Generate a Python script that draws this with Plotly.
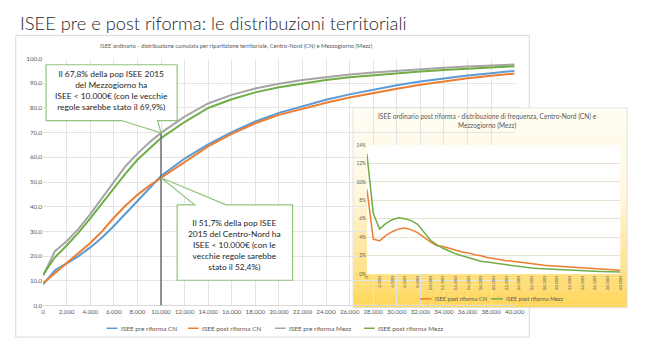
import plotly.graph_objects as go

W, H = 645, 344

# ---- cumulative distribution (%), ISEE thresholds in euro ----
isee = [0, 1000, 2000, 3000, 4000, 5000, 6000, 7000, 8000, 9000, 10000,
        12000, 14000, 16000, 18000, 20000, 22000, 24000, 26000, 28000,
        30000, 32000, 34000, 36000, 38000, 40000]
pre_cn = [8.5, 14.2, 17.0, 20.0, 23.5, 27.5, 32.2, 37.2, 42.3, 47.2, 52.4,
          59.5, 65.2, 70.2, 74.5, 78.0, 80.7, 83.3, 85.5, 87.5,
          89.2, 90.7, 92.0, 93.1, 94.1, 95.0]
post_cn = [9.0, 13.0, 17.0, 21.0, 25.3, 30.0, 35.5, 40.5, 44.8, 48.5, 51.7,
           58.3, 64.4, 69.5, 73.8, 77.2, 79.8, 82.1, 84.2, 86.1,
           87.8, 89.4, 90.8, 92.0, 93.0, 93.9]
pre_mezz = [12.0, 22.0, 26.0, 31.0, 37.0, 43.5, 50.0, 56.5, 61.5, 66.0, 69.9,
            76.5, 81.8, 85.3, 87.9, 89.8, 91.3, 92.5, 93.5, 94.4,
            95.1, 95.8, 96.3, 96.8, 97.2, 97.6]
post_mezz = [12.5, 19.5, 24.3, 29.5, 35.3, 41.5, 47.5, 53.5, 59.0, 63.5, 67.8,
             74.3, 80.0, 83.5, 86.3, 88.4, 90.0, 91.3, 92.4, 93.3,
             94.1, 94.8, 95.4, 95.9, 96.4, 96.9]
cum_names = ["ISEE pre riforma CN", "ISEE post riforma CN",
             "ISEE pre riforma Mezz", "ISEE post riforma Mezz"]

# ---- frequency distribution after the reform (share of population) ----
freq_bins = list(range(0, 40001, 1000))
freq_cn = [0.092, 0.038, 0.036, 0.042, 0.046, 0.049, 0.050, 0.048, 0.045, 0.040,
           0.035, 0.031, 0.030, 0.028, 0.026, 0.024, 0.023, 0.021, 0.020, 0.018,
           0.017, 0.0155, 0.0145, 0.014, 0.013, 0.012, 0.011, 0.010, 0.0095,
           0.009, 0.0085, 0.008, 0.0075, 0.007, 0.0065, 0.006, 0.0055, 0.005,
           0.0048, 0.0045, 0.0043]
freq_mezz = [0.130, 0.066, 0.049, 0.055, 0.059, 0.061, 0.060, 0.058, 0.054, 0.046,
             0.037, 0.032, 0.028, 0.025, 0.022, 0.020, 0.018, 0.016, 0.014, 0.013,
             0.012, 0.011, 0.010, 0.009, 0.008, 0.0072, 0.0065, 0.006, 0.0056,
             0.005, 0.0046, 0.0042, 0.0038, 0.0036, 0.0034, 0.0032, 0.003,
             0.0028, 0.0026, 0.0024, 0.0022]
freq_names = ["ISEE post riforma CN", "ISEE post riforma Mezz"]

THRESHOLD = 10000
TICK_STEP = 2000

BLUE, ORANGE, GRAY, GREEN = "#5B9BD5", "#ED7D31", "#A5A5A5", "#70AD47"
CALLOUT = "#93C47D"
TXT = "#595959"
FONT = "Lato"


def px(x):
    return x / W


def py(y):
    return 1 - y / H


def pct(v):
    return f"{v:.1f}".replace(".", ",")


fig = go.Figure()

# main chart: cumulative curves
for ys, name, col in zip([pre_cn, post_cn, pre_mezz, post_mezz], cum_names,
                         [BLUE, ORANGE, GRAY, GREEN]):
    fig.add_trace(go.Scatter(x=isee, y=ys, name=name, mode="lines",
                             line=dict(color=col, width=2),
                             xaxis="x", yaxis="y", showlegend=False))

# inset: frequency curves
for ys, name, col in zip([freq_cn, freq_mezz], freq_names, [ORANGE, GREEN]):
    fig.add_trace(go.Scatter(x=freq_bins, y=ys, name=name, mode="lines",
                             line=dict(color=col, width=1.5),
                             xaxis="x2", yaxis="y2", showlegend=False))

ticks = list(range(0, isee[-1] + 1, TICK_STEP))
shapes = []
annotations = []

# outer frame of the main chart
shapes.append(dict(type="rect", xref="paper", yref="paper",
                   x0=px(12), x1=px(537), y0=py(340), y1=py(32),
                   line=dict(color="#D9D9D9", width=1), layer="below"))

# inset panel: vertical cream-to-gold gradient drawn in the inset subplot layer
gx0, gx1 = -0.055, 1.027
gy0, gy1 = -0.2605, 1.2885
stops = [(0.0, (255, 214, 90)), (0.55, (255, 246, 220)), (1.0, (255, 253, 244))]


def grad(t):
    for (t0, c0), (t1, c1) in zip(stops[:-1], stops[1:]):
        if t <= t1:
            f = (t - t0) / (t1 - t0)
            return "rgb(%d,%d,%d)" % tuple(round(a + (b - a) * f) for a, b in zip(c0, c1))
    return "rgb(%d,%d,%d)" % stops[-1][1]


N = 70
for i in range(N):
    ya = gy0 + (gy1 - gy0) * i / N
    yb = gy0 + (gy1 - gy0) * (i + 1) / N + 0.003
    shapes.append(dict(type="rect", xref="x2 domain", yref="y2 domain",
                       x0=gx0, x1=gx1, y0=ya, y1=yb,
                       fillcolor=grad((i + 0.5) / N), line=dict(width=0),
                       layer="below"))
shapes.append(dict(type="rect", xref="x2 domain", yref="y2 domain",
                   x0=gx0, x1=gx1, y0=gy0, y1=gy1,
                   line=dict(color="#E3E3E3", width=1), layer="below"))

# drop line at the 10.000 euro threshold
i_thr = isee.index(THRESHOLD)
shapes.append(dict(type="line", xref="x", yref="y", x0=THRESHOLD, x1=THRESHOLD,
                   y0=0, y1=pre_mezz[i_thr], line=dict(color="#6E6E6E", width=1.5),
                   layer="above"))


def callout(box, base, tip, where):
    (xa, xb, ya, yb) = box
    b0, b1 = base
    tx, ty = tip
    if where == "bottom":
        path = (f"M{xa},{yb} L{xb},{yb} L{xb},{ya} L{b1},{ya} L{tx},{ty} "
                f"L{b0},{ya} L{xa},{ya} Z")
    else:
        path = (f"M{xa},{ya} L{xb},{ya} L{xb},{yb} L{b1},{yb} L{tx},{ty} "
                f"L{b0},{yb} L{xa},{yb} Z")
    return dict(type="path", xref="x", yref="y", path=path,
                fillcolor="white", line=dict(color=CALLOUT, width=1.2),
                layer="above")


# Mezzogiorno callout (points at the pre-reform value)
shapes.append(callout((250, 11370, 74.9, 97.5), (6640, 9710),
                      (THRESHOLD, pre_mezz[i_thr]), "bottom"))
# Centro-Nord callout (points at the post-reform value)
shapes.append(callout((11370, 21160, 10.2, 40.75), (12860, 15520),
                      (THRESHOLD, post_cn[i_thr]), "top"))

note_mezz = (f"Il {pct(post_mezz[i_thr])}% della pop ISEE 2015<br>del Mezzogiorno ha<br>"
             f"ISEE &lt; 10.000€ (con le vecchie<br>regole sarebbe stato il {pct(pre_mezz[i_thr])}%)")
note_cn = (f"Il {pct(post_cn[i_thr])}% della pop ISEE<br>2015 del Centro-Nord ha<br>"
           f"ISEE &lt; 10.000€ (con le<br>vecchie regole sarebbe<br>stato il {pct(pre_cn[i_thr])}%)")
for txt, cx, cy in [(note_mezz, 110, 88.5), (note_cn, 236, 246)]:
    annotations.append(dict(xref="paper", yref="paper", x=px(cx), y=py(cy),
                            xanchor="center", yanchor="middle",
                            text=txt, showarrow=False, align="center",
                            font=dict(family=FONT, size=8.4, color="#262626")))

# titles
annotations.append(dict(xref="paper", yref="paper", x=px(14), y=py(19),
                        xanchor="left", yanchor="middle", showarrow=False,
                        text="ISEE pre e post riforma: le distribuzioni territoriali",
                        font=dict(family=FONT, size=18.3, color="#262626", weight=300)))
annotations.append(dict(xref="paper", yref="paper", x=px(238), y=py(42),
                        xanchor="center", yanchor="middle", showarrow=False,
                        text="ISEE ordinario - distribuzione cumulata per ripartizione "
                             "territoriale, Centro-Nord (CN) e Mezzogiorno (Mezz)",
                        font=dict(family=FONT, size=5.8, color=TXT)))
annotations.append(dict(xref="paper", yref="paper", x=px(494), y=py(119.5),
                        xanchor="center", yanchor="middle", showarrow=False,
                        text="ISEE ordinario post riforma - distribuzione di frequenza, "
                             "Centro-Nord (CN) e<br>Mezzogiorno (Mezz)",
                        font=dict(family=FONT, size=6.6, color=TXT)))


def legend_row(items, y, starts, seg, size):
    for (name, col), x0 in zip(items, starts):
        shapes.append(dict(type="line", xref="paper", yref="paper",
                           x0=px(x0), x1=px(x0 + seg), y0=py(y), y1=py(y),
                           line=dict(color=col, width=1.5), layer="above"))
        annotations.append(dict(xref="paper", yref="paper", x=px(x0 + seg + 1.5),
                                y=py(y), xanchor="left", yanchor="middle",
                                showarrow=False, text=name,
                                font=dict(family=FONT, size=size, color=TXT)))


legend_row(list(zip(cum_names, [BLUE, ORANGE, GRAY, GREEN])), 331,
           [105, 188, 277, 368], 11, 6.4)
legend_row(list(zip(freq_names, [ORANGE, GREEN])), 301,
           [425, 498], 12, 5.6)

fig.update_layout(
    width=W, height=H, margin=dict(l=0, r=0, t=0, b=0),
    paper_bgcolor="white", plot_bgcolor="white",
    separators=",.",
    showlegend=False,
    xaxis=dict(domain=[px(40), px(522)], range=[0, isee[-1]], tickvals=ticks,
               tickformat=",d", tickangle=0, showgrid=True, gridcolor="#E4E4E4",
               gridwidth=1, zeroline=False, showline=True, linecolor="#D9D9D9",
               ticks="", tickfont=dict(family=FONT, size=6.2, color=TXT),
               fixedrange=True),
    yaxis=dict(domain=[py(307.7), py(55.7)], range=[0, 100], dtick=10,
               tickformat=".1f", showgrid=True, gridcolor="#E4E4E4", gridwidth=1,
               zeroline=False, showline=False, ticks="",
               tickfont=dict(family=FONT, size=6.2, color=TXT), fixedrange=True),
    xaxis2=dict(domain=[px(371), px(630)], range=[0, freq_bins[-1]],
                tickvals=ticks, tickformat=",d", tickangle=-90, anchor="y2",
                showgrid=False, zeroline=False, showline=False, ticks="",
                tickfont=dict(family=FONT, size=4.6, color=TXT), fixedrange=True),
    yaxis2=dict(domain=[py(275.7), py(144)], range=[0, 0.14], dtick=0.02,
                tickformat=".0%", anchor="x2", showgrid=True,
                gridcolor="#E6E1D0", gridwidth=0.8, zeroline=False,
                showline=False, ticks="",
                tickfont=dict(family=FONT, size=4.8, color=TXT), fixedrange=True),
    shapes=shapes, annotations=annotations,
)

fig.write_html("out.html")
